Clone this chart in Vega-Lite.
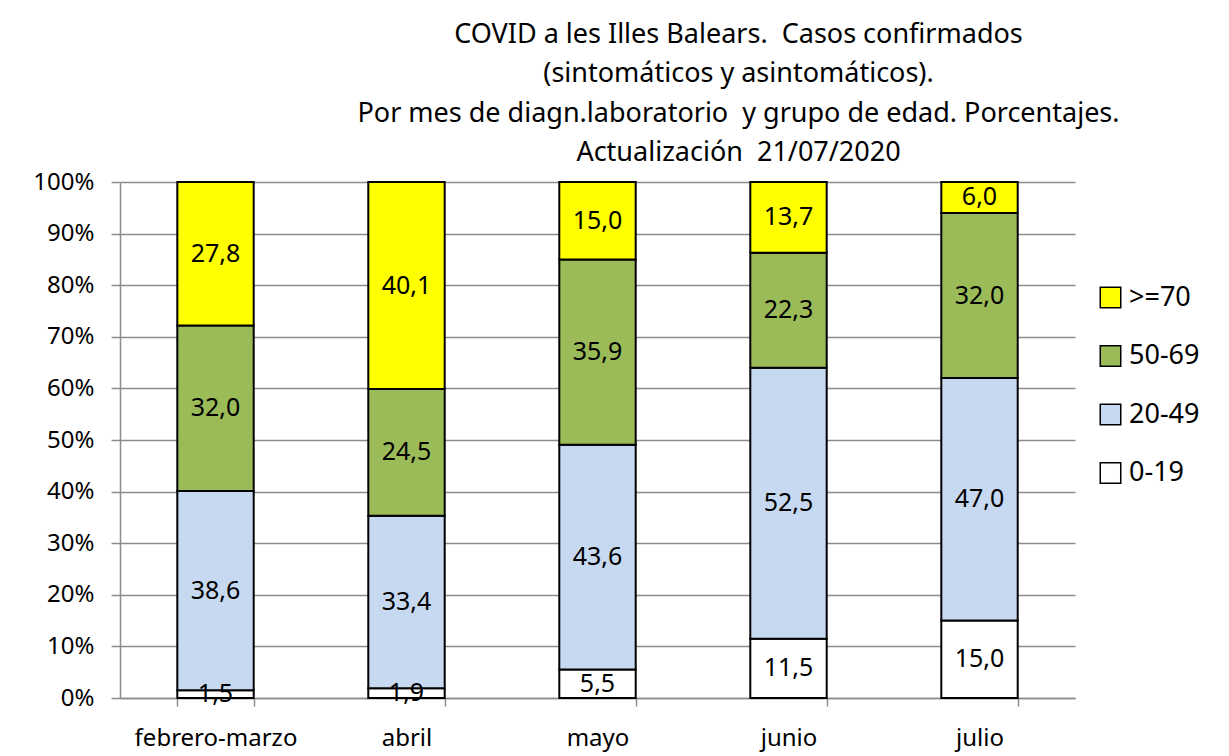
{
  "$schema": "https://vega.github.io/schema/vega-lite/v6.json",
  "width": 955,
  "height": 516,
  "autosize": {"type": "none"},
  "padding": {"left": 120, "top": 182, "right": 154, "bottom": 58},
  "background": "white",
  "config": {
    "font": "Noto Sans",
    "view": {"stroke": null}
  },
  "title": {
    "text": ["COVID a les Illes Balears.\u00a0 Casos confirmados", "(sintomáticos y asintomáticos).", "Por mes de diagn.laboratorio\u00a0 y grupo de edad. Porcentajes.", "Actualización\u00a0 21/07/2020"],
    "fontSize": 27,
    "fontWeight": "normal",
    "font": "Noto Sans",
    "color": "black",
    "lineHeight": 39.3,
    "anchor": "middle",
    "dx": 141,
    "offset": 3
  },
  "data": {
    "values": [
      {"mes": "febrero-marzo", "grupo": "0-19", "ord": 1, "value": 1.5, "label": "1,5"},
      {"mes": "febrero-marzo", "grupo": "20-49", "ord": 2, "value": 38.6, "label": "38,6"},
      {"mes": "febrero-marzo", "grupo": "50-69", "ord": 3, "value": 32.0, "label": "32,0"},
      {"mes": "febrero-marzo", "grupo": ">=70", "ord": 4, "value": 27.8, "label": "27,8"},
      {"mes": "abril", "grupo": "0-19", "ord": 1, "value": 1.9, "label": "1,9"},
      {"mes": "abril", "grupo": "20-49", "ord": 2, "value": 33.4, "label": "33,4"},
      {"mes": "abril", "grupo": "50-69", "ord": 3, "value": 24.5, "label": "24,5"},
      {"mes": "abril", "grupo": ">=70", "ord": 4, "value": 40.1, "label": "40,1"},
      {"mes": "mayo", "grupo": "0-19", "ord": 1, "value": 5.5, "label": "5,5"},
      {"mes": "mayo", "grupo": "20-49", "ord": 2, "value": 43.6, "label": "43,6"},
      {"mes": "mayo", "grupo": "50-69", "ord": 3, "value": 35.9, "label": "35,9"},
      {"mes": "mayo", "grupo": ">=70", "ord": 4, "value": 15.0, "label": "15,0"},
      {"mes": "junio", "grupo": "0-19", "ord": 1, "value": 11.5, "label": "11,5"},
      {"mes": "junio", "grupo": "20-49", "ord": 2, "value": 52.5, "label": "52,5"},
      {"mes": "junio", "grupo": "50-69", "ord": 3, "value": 22.3, "label": "22,3"},
      {"mes": "junio", "grupo": ">=70", "ord": 4, "value": 13.7, "label": "13,7"},
      {"mes": "julio", "grupo": "0-19", "ord": 1, "value": 15.0, "label": "15,0"},
      {"mes": "julio", "grupo": "20-49", "ord": 2, "value": 47.0, "label": "47,0"},
      {"mes": "julio", "grupo": "50-69", "ord": 3, "value": 32.0, "label": "32,0"},
      {"mes": "julio", "grupo": ">=70", "ord": 4, "value": 6.0, "label": "6,0"}
    ]
  },
  "transform": [
    {"stack": "value", "groupby": ["mes"], "sort": [{"field": "ord", "order": "ascending"}], "as": ["y0", "y1"], "offset": "normalize"},
    {"calculate": "(datum.y0 + datum.y1) / 2", "as": "ymid"}
  ],
  "encoding": {
    "x": {
      "field": "mes",
      "type": "nominal",
      "sort": ["febrero-marzo", "abril", "mayo", "junio", "julio"],
      "scale": {"paddingInner": 0.6, "paddingOuter": 0.3},
      "axis": {
        "title": null,
        "labelAngle": 0,
        "labelFontSize": 24,
        "labelColor": "black",
        "labelPadding": 20,
        "tickBand": "extent",
        "tickSize": 8,
        "tickColor": "#8c8c8c",
        "tickWidth": 1.5,
        "domainColor": "#8c8c8c",
        "domainWidth": 1.5,
        "grid": false
      }
    }
  },
  "layer": [
    {
      "mark": {"type": "bar", "stroke": "black", "strokeWidth": 2},
      "encoding": {
        "y": {
          "field": "y0",
          "type": "quantitative",
          "scale": {"domain": [0, 1], "nice": false},
          "axis": {
            "title": null,
            "format": "%",
            "values": [0, 0.1, 0.2, 0.3, 0.4, 0.5, 0.6, 0.7, 0.8, 0.9, 1],
            "labelFontSize": 24,
            "labelColor": "black",
            "labelPadding": 17,
            "tickSize": 9,
            "tickColor": "#8c8c8c",
            "tickWidth": 1.5,
            "domainColor": "#8c8c8c",
            "domainWidth": 1.5,
            "grid": true,
            "gridColor": "#8c8c8c",
            "gridWidth": 1.5
          }
        },
        "y2": {"field": "y1"},
        "color": {
          "field": "grupo",
          "type": "nominal",
          "scale": {
            "domain": [">=70", "50-69", "20-49", "0-19"],
            "range": ["#FFFF00", "#9BBB59", "#C6D9F1", "#FFFFFF"]
          },
          "legend": {
            "title": null,
            "orient": "none",
            "legendX": 977,
            "legendY": 102,
            "symbolType": "square",
            "symbolSize": 420,
            "symbolStrokeColor": "black",
            "symbolStrokeWidth": 1.5,
            "labelFontSize": 27,
            "labelColor": "black",
            "labelOffset": 5,
            "rowPadding": 30.5
          }
        }
      }
    },
    {
      "mark": {"type": "text", "fontSize": 25, "color": "black", "baseline": "middle"},
      "encoding": {
        "y": {"field": "ymid", "type": "quantitative"},
        "text": {"field": "label"}
      }
    }
  ]
}
